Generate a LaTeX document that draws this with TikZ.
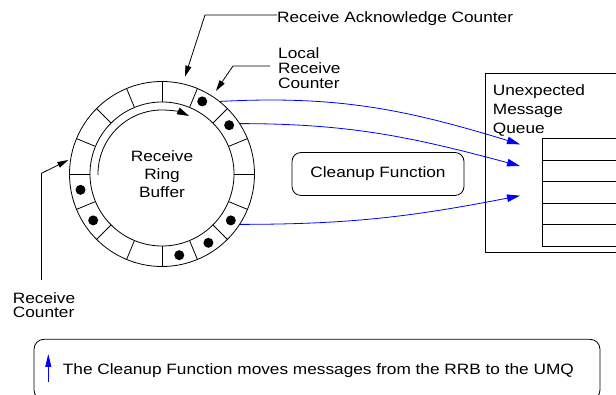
\documentclass[tikz,border=0pt]{standalone}
\usepackage{fontspec}
\setmainfont[FakeStretch=1.15]{Liberation Sans}
\usetikzlibrary{arrows.meta,calc,positioning}
\definecolor{mvblue}{RGB}{0,0,255}
\tikzset{
  txt/.style={font=\fontsize{15}{18}\selectfont, inner sep=0pt, align=left},
  seg/.style={line width=0.8pt},
  rdot/.style={circle, fill=black, inner sep=0pt, minimum size=10pt},
  lead/.style={line width=0.8pt, -{Triangle[length=11pt,width=6pt]}},
  mv/.style={mvblue, line width=0.8pt, -{Triangle[length=13pt,width=7.5pt]}},
  fbox/.style={draw, line width=0.8pt, rounded corners=9pt, font=\fontsize{15}{18}\selectfont},
  qbox/.style={draw, line width=0.8pt, inner sep=0pt, anchor=north west},
}

\begin{document}
\begin{tikzpicture}[x=1pt, y=1pt]
  \useasboundingbox (0,0) rectangle (616,395);
  \clip (0,0) rectangle (616,395);
  % receive ring buffer
  \coordinate (rrb) at (162,221);
  \draw[seg] (rrb) circle (92.5) (rrb) circle (72);
  \foreach \a in {0,22.5,...,337.5}
    \draw[seg] ($(rrb)+(\a:72)$) -- ($(rrb)+(\a:92.5)$);
  \foreach \a in {36,61,191,214,282,304,326}
    \node[rdot] (msg\a) at ($(rrb)+(\a:83)$) {};
  \draw[seg, -{Triangle[length=12pt,width=7pt]}] ($(rrb)+(181:64)$)
    arc[start angle=181, end angle=65, radius=64];
  \node[txt, align=center] (rrbtxt) at (rrb) {Receive\\Ring\\Buffer};

  % counters
  \node[txt, anchor=base west] (ack) at (277,372.7) {Receive Acknowledge Counter};
  \coordinate (ackbend) at (205,380);
  \coordinate (acktip) at ($(rrb)+(76.7:100)$);
  \draw[lead] (ackbend -| ack.west) -- (ackbend) -- (acktip);

  \node[txt, anchor=north west, font=\fontsize{15}{15}\selectfont] (lrc) at (278,347.6)
    {Local\\Receive\\Counter};
  \coordinate (lrcbend) at (233,329);
  \coordinate (lrctip) at ($(rrb)+(57:99)$);
  \draw[lead] ($(lrcbend -| lrc.west)+(-8,0)$) -- (lrcbend) -- (lrctip);

  \node[txt, anchor=north west, font=\fontsize{15}{14}\selectfont] (rc) at (12.7,102.6)
    {Receive\\Counter};
  \coordinate (rcfoot) at (41.5,115);
  \coordinate (rcbend) at (41.5,221.7);
  \coordinate (rctip) at ($(rrb)+(171.5:94.7)$);
  \draw[lead] (rcfoot) -- (rcbend) -- (rctip);

  \node[fbox, minimum width=172pt, minimum height=43pt] (cf) at (378,221) {Cleanup Function};

  % unexpected message queue
  \node[draw, line width=1pt, anchor=south west, minimum width=160pt, minimum height=178.7pt]
    (umq) at (485,142.3) {};
  \node[txt, anchor=north west, font=\fontsize{15}{19}\selectfont] (umqtxt) at (492.7,310.9)
    {Unexpected\\Message\\Queue};
  \foreach \i in {0,...,4}
    \node[qbox, minimum width=100pt, minimum height=21.5pt] (q\i) at (542.3,256.7-21.5*\i) {};

  \coordinate (in1) at (520,250.7);
  \coordinate (in2) at (520,229);
  \coordinate (in3) at (520,199.3);
  \draw[mv] ($(rrb)+(51.3:93)$) to[out=3, in=163] (in1);
  \draw[mv] ($(rrb)+(32.8:93)$) to[out=0, in=165] (in2);
  \draw[mv] ($(rrb)+(-32.8:93)$) to[out=0, in=-169] (in3);

  % legend
  \draw[seg, rounded corners=10pt] (34,-5) rectangle (600,55.7);
  \node[txt, anchor=base west] (note) at (62.7,20.7)
    {The Cleanup Function moves messages from the RRB to the UMQ};
  \coordinate (keyfoot) at (48.3,13.3);
  \coordinate (keytip) at (48.3,41);
  \draw[mv, -{Triangle[length=13pt,width=6pt]}] (keyfoot) -- (keytip);
\end{tikzpicture}
\end{document}
